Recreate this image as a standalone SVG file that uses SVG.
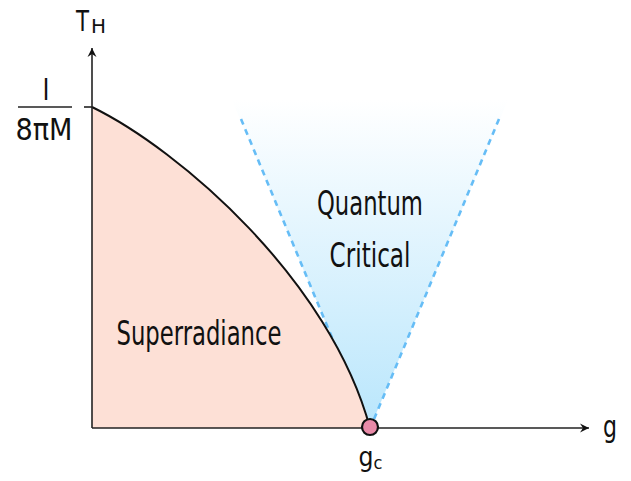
<svg xmlns="http://www.w3.org/2000/svg" width="631" height="481" viewBox="0 0 631 481">
<defs>
<linearGradient id="cone" x1="0" y1="100" x2="0" y2="428" gradientUnits="userSpaceOnUse">
<stop offset="0" stop-color="#ffffff"/>
<stop offset="1" stop-color="#b9e6fc"/>
</linearGradient>
<marker id="arr" viewBox="0 0 12 12" refX="10" refY="6" markerWidth="12" markerHeight="12" markerUnits="userSpaceOnUse" orient="auto">
<path d="M1,1.5 L10,6 L1,10.5 L4,6 Z" fill="#111"/>
</marker>
<style>
.t{font-family:"DejaVu Sans","Liberation Sans",sans-serif;fill:#111;font-stretch:condensed}
.axis{stroke:#222;stroke-width:1.6;fill:none}
.dash{stroke:#66bdf6;stroke-width:2.6;stroke-dasharray:6 5;fill:none}
</style>
</defs>
<g id="cone-region">
<polygon points="232,100 508,100 370,428" fill="url(#cone)"/>
<line class="dash" x1="241" y1="119" x2="368" y2="424"/>
<line class="dash" x1="499" y1="119" x2="372" y2="424"/>
</g>
<g id="superradiance-region">
<path d="M92,107 C180,150 330,280 370,428 L92,428 Z" fill="#fde0d6"/>
<path d="M92,107 C180,150 330,280 370,428" stroke="#111" stroke-width="2" fill="none"/>
</g>
<g id="axes">
<line class="axis" x1="92" y1="428" x2="92" y2="48" marker-end="url(#arr)"/>
<line class="axis" x1="92" y1="428" x2="589" y2="428" marker-end="url(#arr)"/>
<line class="axis" x1="84" y1="107" x2="92" y2="107"/>
</g>
<g id="labels">
<text class="t" x="76" y="31" font-size="29" textLength="13" lengthAdjust="spacingAndGlyphs">T</text>
<text class="t" x="91" y="33" font-size="19" textLength="15" lengthAdjust="spacingAndGlyphs">H</text>
<text class="t" x="46" y="100" font-size="28" text-anchor="middle">l</text>
<line x1="18" y1="107" x2="72" y2="107" stroke="#222" stroke-width="1.6"/>
<text class="t" x="44" y="140" font-size="30" text-anchor="middle" textLength="57" lengthAdjust="spacingAndGlyphs">8πM</text>
<text class="t" x="610" y="437" font-size="30" text-anchor="middle" textLength="14" lengthAdjust="spacingAndGlyphs">g</text>
<text class="t" x="366" y="466" font-size="27" text-anchor="middle" textLength="15" lengthAdjust="spacingAndGlyphs">g</text>
<text class="t" x="378" y="469" font-size="18" text-anchor="middle">c</text>
<text class="t" x="370" y="215" font-size="34" text-anchor="middle" textLength="106" lengthAdjust="spacingAndGlyphs">Quantum</text>
<text class="t" x="370" y="267" font-size="34" text-anchor="middle" textLength="81" lengthAdjust="spacingAndGlyphs">Critical</text>
<text class="t" x="199" y="345" font-size="33" text-anchor="middle" textLength="165" lengthAdjust="spacingAndGlyphs">Superradiance</text>
</g>
<g id="critical-point">
<circle cx="370" cy="427" r="8" fill="#e98aa8" stroke="#111" stroke-width="2.2"/>
</g>
</svg>
